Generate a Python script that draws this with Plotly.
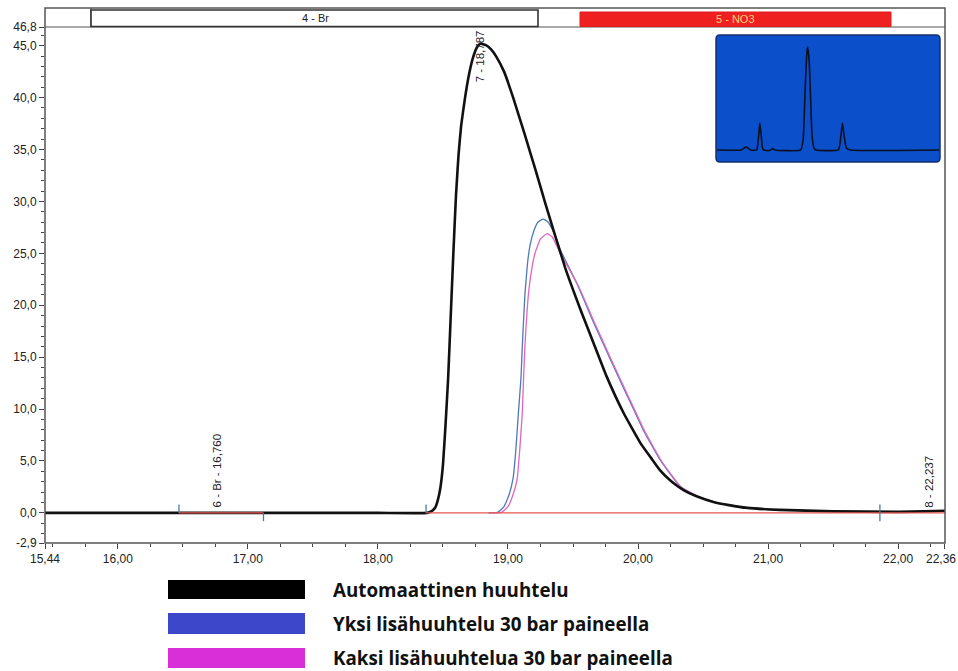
import numpy as np
import plotly.graph_objects as go

# ---- chromatogram data (time in min, signal in µS) ----
series_names = [
    "Automaattinen huuhtelu",
    "Yksi lisähuuhtelu 30 bar paineella",
    "Kaksi lisähuuhtelua 30 bar paineella",
]

auto_t = [15.44, 16.00, 17.00, 18.00, 18.38, 18.41, 18.44, 18.46, 18.48, 18.50,
          18.52, 18.54, 18.56, 18.58, 18.60, 18.62, 18.64, 18.67, 18.70, 18.73,
          18.76, 18.787, 18.83, 18.87, 18.91, 18.97, 19.04, 19.13, 19.21, 19.29,
          19.44, 19.56, 19.66, 19.76, 19.89, 20.02, 20.10, 20.17, 20.26, 20.35,
          20.45, 20.58, 20.70, 20.84, 21.09, 21.50, 22.00, 22.20, 22.36]
auto_v = [0.0, 0.0, 0.0, 0.0, 0.0, 0.15, 0.5, 1.2, 2.4, 4.6,
          8.5, 13.0, 19.0, 25.0, 30.5, 34.5, 37.3, 40.0, 42.2, 43.8,
          44.8, 45.2, 45.05, 44.65, 43.95, 42.5, 40.0, 36.4, 33.1, 29.7,
          23.6, 19.5, 16.3, 13.1, 9.6, 6.7, 5.3, 4.1, 3.0, 2.2,
          1.6, 1.06, 0.75, 0.48, 0.29, 0.15, 0.10, 0.15, 0.20]

one_t = [18.85, 18.92, 18.97, 19.01, 19.04, 19.06, 19.08, 19.10, 19.11, 19.13,
         19.15, 19.17, 19.20, 19.23, 19.27, 19.31, 19.36, 19.40, 19.53, 19.66,
         19.79, 19.92, 20.04, 20.17, 20.32, 20.45, 20.60, 20.84, 21.09, 21.50,
         22.00, 22.36]
one_v = [0.0, 0.05, 0.6, 1.8, 3.4, 6.0, 9.6, 13.0, 16.0, 21.0,
         24.0, 25.8, 27.2, 28.0, 28.3, 28.0, 26.8, 25.4, 22.1, 18.3,
         14.7, 11.2, 8.0, 5.1, 2.6, 1.6, 1.0, 0.48, 0.29, 0.15,
         0.10, 0.20]

two_t = [18.88, 18.95, 19.00, 19.04, 19.07, 19.09, 19.11, 19.12, 19.13, 19.16,
         19.19, 19.21, 19.25, 19.30, 19.34, 19.38, 19.42, 19.54, 19.67, 19.80,
         19.93, 20.05, 20.18, 20.33, 20.46, 20.60, 20.84, 21.09, 21.50, 22.00,
         22.36]
two_v = [0.0, 0.05, 0.6, 1.8, 3.2, 6.0, 9.6, 13.0, 16.0, 21.4,
         24.0, 25.1, 26.4, 26.9, 26.6, 25.6, 24.6, 21.9, 18.2, 14.6,
         11.1, 7.9, 5.0, 2.5, 1.6, 1.0, 0.48, 0.29, 0.15, 0.10,
         0.20]

# integration baselines and peak-start/end markers
baseline_start = [16.47, 18.37]
baseline_end = [17.12, 22.36]
marker_t = [16.47, 17.12, 18.37, 21.86]
marker_lo = [0.0, -0.8, 0.0, -0.8]
marker_hi = [0.8, 0.0, 0.8, 0.8]

# peak labels
peak_names = ["6 - Br", "7", "8"]
peak_times = [16.760, 18.787, 22.237]
peak_label_base = [0.3, 41.3, 0.3]

# window bands at the top
band_names = ["4 - Br", "5 - NO3"]

# overview chromatogram (relative time, % of max)
ov_t = [0, 10.8, 12.1, 13.0, 13.9, 15.2, 17.9, 18.8, 19.3, 19.9, 20.6, 22.0,
        24.2, 25.1, 26.0, 37.7, 38.8, 39.7, 40.4, 40.8, 41.5, 42.2, 42.8, 43.7,
        44.6, 54.7, 55.6, 56.5, 57.2, 58.3, 60.1, 100]
ov_v = [0, 0, 1.5, 3.0, 2.0, 0, 0, 14.6, 26.2, 14.6, 1.0, -0.5,
        0, 1.5, 0, 0, 9.7, 58.3, 92.2, 100, 87.4, 48.5, 14.6, 1.9,
        0, 0, 9.7, 26.2, 14.6, 1.9, 0, 0]

# axis ticks
x_major = [15.44, 16, 17, 18, 19, 20, 21, 22, 22.36]
y_major = [-2.9, 0, 5, 10, 15, 20, 25, 30, 35, 40, 45, 46.8]

# ---- figure geometry (pixels -> paper) ----
W, H = 958, 671
L, R, T, B = 45, 945, 27, 543


def px(x):
    return (x - L) / (R - L)


def py(y):
    return (B - y) / (B - T)


def fmt(v, d):
    return f"{v:.{d}f}".replace(".", ",")


fig = go.Figure()

line_styles = [
    dict(color="#111111", width=2.6),
    dict(color="#4f79b8", width=1.3),
    dict(color="#e066be", width=1.3),
]

fig.add_trace(go.Scatter(x=one_t, y=one_v, mode="lines", name=series_names[1],
                         line=dict(shape="spline", smoothing=0.35, **line_styles[1])))
fig.add_trace(go.Scatter(x=two_t, y=two_v, mode="lines", name=series_names[2],
                         line=dict(shape="spline", smoothing=0.35, **line_styles[2])))
fig.add_trace(go.Scatter(x=auto_t, y=auto_v, mode="lines", name=series_names[0],
                         line=dict(shape="spline", smoothing=0.35, **line_styles[0])))

for t0, t1 in zip(baseline_start, baseline_end):
    fig.add_trace(go.Scatter(x=[t0, t1], y=[0, 0], mode="lines",
                             line=dict(color="#e8574f", width=1.2)))

for t, lo, hi in zip(marker_t, marker_lo, marker_hi):
    fig.add_trace(go.Scatter(x=[t, t], y=[lo, hi], mode="lines",
                             line=dict(color="#4a7aa8", width=1.3)))

# overview inset
fig.add_trace(go.Scatter(x=ov_t, y=ov_v, mode="lines", xaxis="x2", yaxis="y2",
                         line=dict(color="#0a1020", width=1.6, shape="spline", smoothing=0.4)))

annotations = []
for name, t, yb in zip(peak_names, peak_times, peak_label_base):
    annotations.append(dict(x=t, y=yb, xref="x", yref="y",
                            text=f"{name} - {fmt(t, 3)}",
                            textangle=-90, showarrow=False, xanchor="center", yanchor="bottom",
                            font=dict(family="Liberation Sans", size=11.5, color="#222222")))

# the last x label sits flush against the right edge
x_text = [fmt(v, 2) for v in x_major[:-1]] + [""]
x_minor = [v for v in np.arange(15.5, 22.36, 0.25) if abs(v - round(v)) > 1e-6]
y_text = [fmt(v, 1) for v in y_major]
y_minor = [v for v in range(-2, 47) if v % 5 != 0]

tick_font = dict(family="Liberation Sans", size=12, color="#222222")

annotations.append(dict(x=x_major[-1], y=py(559), xref="x", yref="paper",
                        text=fmt(x_major[-1], 2), showarrow=False,
                        xanchor="right", yanchor="middle", xshift=13, font=tick_font))

shapes = []
# outer frame including the window band row
shapes.append(dict(type="rect", xref="paper", yref="paper", x0=px(45), x1=px(945),
                   y0=py(543), y1=py(8), line=dict(color="#555555", width=1.5),
                   fillcolor="rgba(0,0,0,0)", layer="above"))
shapes.append(dict(type="line", xref="paper", yref="paper", x0=px(45), x1=px(945),
                   y0=py(27), y1=py(27), line=dict(color="#555555", width=1.2),
                   layer="below"))
shapes.append(dict(type="line", xref="paper", yref="paper", x0=px(91), x1=px(91),
                   y0=py(27), y1=py(8), line=dict(color="#555555", width=1.2),
                   layer="below"))
# window bands
shapes.append(dict(type="rect", xref="paper", yref="paper", x0=px(91), x1=px(538),
                   y0=py(26.5), y1=py(10), line=dict(color="#333333", width=1.6),
                   fillcolor="white", layer="below"))
shapes.append(dict(type="rect", xref="paper", yref="paper", x0=px(580), x1=px(891),
                   y0=py(26.5), y1=py(12), line=dict(color="#dd1c1c", width=1),
                   fillcolor="#ee2020", layer="below"))

# rounded inset background
x0, x1, y0, y1 = px(716), px(940), py(162), py(35)
rx, ry = 4 / (R - L), 4 / (B - T)
path = (f"M{x0 + rx},{y0} L{x1 - rx},{y0} Q{x1},{y0} {x1},{y0 + ry} "
        f"L{x1},{y1 - ry} Q{x1},{y1} {x1 - rx},{y1} L{x0 + rx},{y1} "
        f"Q{x0},{y1} {x0},{y1 - ry} L{x0},{y0 + ry} Q{x0},{y0} {x0 + rx},{y0} Z")
shapes.append(dict(type="path", xref="paper", yref="paper", path=path,
                   fillcolor="#0b4fca", line=dict(color="#14306e", width=1.5),
                   layer="below"))

# legend swatches
legend_colors = ["#000000", "#3d47c9", "#d92fd9"]
legend_rows = [(580, 599), (613, 634), (648, 668)]
for col, (ya, yb) in zip(legend_colors, legend_rows):
    shapes.append(dict(type="rect", xref="paper", yref="paper", x0=px(168), x1=px(305),
                       y0=py(yb), y1=py(ya), fillcolor=col, line=dict(width=0)))

annotations.append(dict(x=px(315), y=py(18), xref="paper", yref="paper", text=band_names[0],
                        showarrow=False, xanchor="center", yanchor="middle",
                        font=dict(family="Liberation Sans", size=11, color="#222222")))
annotations.append(dict(x=px(735), y=py(19), xref="paper", yref="paper", text=band_names[1],
                        showarrow=False, xanchor="center", yanchor="middle",
                        font=dict(family="Liberation Sans", size=11, color="#ffd27a")))
for name, (ya, yb) in zip(series_names, legend_rows):
    annotations.append(dict(x=px(331), y=py((ya + yb) / 2), xref="paper", yref="paper",
                            text=f"<b>{name}</b>", showarrow=False, xanchor="left",
                            yanchor="middle",
                            font=dict(family="Open Sans", size=18.8, color="#111111")))

fig.update_layout(
    width=W, height=H,
    margin=dict(l=L, r=W - R, t=T, b=H - B, autoexpand=False),
    paper_bgcolor="white",
    plot_bgcolor="rgba(0,0,0,0)",
    showlegend=False,
    xaxis=dict(range=[15.44, 22.3605], tickvals=x_major, ticktext=x_text,
               ticks="outside", ticklen=5, tickcolor="#444444", tickwidth=1,
               showgrid=False, zeroline=False, showline=False, tickfont=tick_font,
               automargin=False,
               minor=dict(tickvals=x_minor, ticks="outside", ticklen=3,
                          tickcolor="#444444", showgrid=False)),
    yaxis=dict(range=[-2.9, 46.8], tickvals=y_major, ticktext=y_text,
               ticks="outside", ticklen=5, tickcolor="#444444", tickwidth=1,
               showgrid=False, zeroline=False, showline=False, tickfont=tick_font,
               automargin=False,
               minor=dict(tickvals=y_minor, ticks="outside", ticklen=3,
                          tickcolor="#444444", showgrid=False)),
    xaxis2=dict(domain=[px(717), px(939)], range=[0, 100], visible=False, anchor="y2"),
    yaxis2=dict(domain=[py(161), py(36)], range=[-10.7, 110.7], visible=False, anchor="x2"),
    shapes=shapes,
    annotations=annotations,
)

fig.write_html("out.html")
